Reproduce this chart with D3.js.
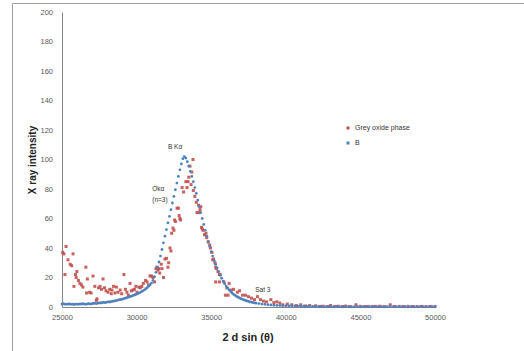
<!DOCTYPE html>
<html>
<head>
<meta charset="utf-8">
<script src="https://cdn.jsdelivr.net/npm/d3@7"></script>
<style>
  body { margin: 0; background: #fff; }
  text { font-family: "Liberation Sans", "DejaVu Sans", sans-serif; }
</style>
</head>
<body>
<div id="chart"></div>
<script>
// tick values
const xTicks = [25000, 30000, 35000, 40000, 45000, 50000];
const yTicks = [0, 20, 40, 60, 80, 100, 120, 140, 160, 180, 200];

const seriesNames = ['Grey oxide phase', 'B'];

// Grey oxide phase : [2d sin(theta), intensity]
const greyOxide = [
  [25050, 37], [25130, 36], [25200, 22], [25270, 41], [25400, 32], [25550, 29], [25650, 28],
  [25740, 36], [25800, 14], [25900, 22], [25950, 20], [26000, 24], [26100, 18], [26200, 16],
  [26300, 15], [26400, 13.5], [26600, 27], [26650, 9.5], [26700, 19], [26850, 10], [26950, 9.5],
  [27080, 21], [27200, 14], [27300, 4.5], [27350, 5.5], [27450, 13], [27550, 14], [27650, 12],
  [27750, 19], [27850, 13], [27950, 11], [28080, 10], [28200, 12], [28300, 9], [28350, 11.5],
  [28450, 14], [28550, 9.5], [28650, 13.5], [28750, 10], [28900, 11.5], [29000, 9], [29150, 22],
  [29250, 12], [29350, 10], [29450, 8], [29560, 16], [29650, 11], [29760, 11.5], [29850, 12],
  [29950, 14], [30030, 10], [30150, 13.5], [30250, 13], [30350, 14], [30450, 16], [30600, 18],
  [30700, 17], [30800, 15], [30900, 21], [31000, 21], [31100, 20], [31200, 17], [31300, 26],
  [31360, 27], [31430, 25], [31500, 26], [31550, 23], [31650, 29], [31700, 26], [31800, 20],
  [31900, 32.5], [32000, 33], [32100, 27], [32150, 30], [32240, 40], [32300, 38], [32350, 50],
  [32440, 53.5], [32500, 52], [32550, 59], [32600, 58], [32710, 67], [32800, 67], [32850, 62],
  [32900, 60], [32950, 59], [33050, 81], [33150, 78], [33300, 85], [33380, 81], [33450, 85],
  [33500, 88], [33580, 95.5], [33650, 83], [33700, 91.5], [33780, 100], [33800, 79], [33900, 75],
  [34000, 71], [34050, 64], [34150, 69], [34200, 64], [34250, 66], [34300, 68], [34350, 54],
  [34400, 53], [34450, 52], [34550, 49], [34650, 50], [34700, 47], [34800, 44], [34900, 42],
  [34950, 40], [35050, 37], [35100, 32], [35150, 32.5], [35250, 30], [35300, 27], [35350, 26],
  [35450, 24], [35550, 22], [35600, 22], [35300, 17], [35550, 17], [35850, 17], [36200, 16],
  [36050, 13], [35950, 8], [36130, 8], [36350, 11.5], [36500, 12], [36750, 10], [36900, 11],
  [37100, 8], [37300, 8], [37500, 7], [37700, 6], [37900, 5], [38100, 7], [38300, 5], [38500, 4],
  [38700, 3.5], [39000, 5], [39200, 3], [39400, 3.5], [39600, 2.7], [39800, 1.5], [40100, 2],
  [40400, 1.5], [40700, 1], [41000, 1.5], [41300, 0.7], [41600, 1], [42000, 0.8], [42300, 0.4],
  [42500, 0.5], [42800, 0.3], [43000, 1], [43300, 0.4], [43500, 0.5], [43800, 0.3], [44000, 0.6],
  [44300, 0.3], [44700, 1.5], [45000, 0.4], [45300, 0.3], [45500, 0.4], [45800, 0.3], [46000, 0.4],
  [46300, 0.5], [46600, 0.3], [47000, 1.5], [47300, 0.3], [47600, 0.4], [47900, 0.3], [48200, 0.4],
  [48500, 0.3], [48800, 0.3], [49100, 0.4], [49400, 0.3], [49700, 0.3], [50000, 0.3]
];

// B : [2d sin(theta), intensity]
const seriesB = [
  [25000, 2.0], [25100, 2.2], [25200, 1.8], [25300, 2.0], [25400, 1.9], [25500, 2.1], [25600, 1.8],
  [25700, 2.0], [25800, 1.7], [25900, 1.9], [26000, 2.0], [26100, 1.8], [26200, 2.1], [26300, 1.9],
  [26400, 2.2], [26500, 2.0], [26600, 1.8], [26700, 2.1], [26800, 2.3], [26900, 2.0], [27000, 2.2],
  [27100, 2.4], [27200, 2.5], [27300, 2.3], [27400, 2.6], [27500, 2.8], [27600, 2.7], [27700, 3.0],
  [27800, 3.1], [27900, 3.0], [28000, 3.3], [28100, 3.5], [28200, 3.4], [28300, 3.7], [28400, 3.9],
  [28500, 4.0], [28600, 4.3], [28700, 4.5], [28800, 4.8], [28900, 5.0], [29000, 5.2], [29100, 5.5],
  [29200, 5.9], [29300, 6.1], [29400, 6.5], [29500, 6.8], [29600, 7.2], [29700, 7.5], [29800, 7.9],
  [29900, 8.3], [30000, 8.7], [30100, 9.2], [30200, 9.6], [30300, 10.2], [30400, 10.8], [30500, 11.5],
  [30600, 12.2], [30700, 13.0], [30800, 14.0], [30900, 15.0], [31000, 16.2], [31100, 18], [31200, 20.5],
  [31300, 23.5], [31400, 27], [31500, 30.5], [31600, 34.5], [31700, 39], [31800, 43.5], [31900, 48],
  [32000, 52.5], [32100, 57], [32200, 61.5], [32300, 66], [32400, 70.5], [32500, 75], [32600, 79.5],
  [32700, 84], [32800, 88.5], [32900, 93], [33000, 97], [33100, 100.5], [33200, 102], [33300, 101],
  [33400, 98.5], [33500, 95.5], [33600, 92], [33700, 88.5], [33800, 85], [33900, 81], [34000, 77],
  [34100, 72.5], [34200, 68], [34300, 64], [34400, 60], [34500, 56], [34600, 52], [34700, 48],
  [34800, 44.5], [34900, 41], [35000, 37.5], [35100, 34.5], [35200, 31.5], [35300, 29], [35400, 26.5],
  [35500, 24], [35600, 21.5], [35700, 19.5], [35800, 17.5], [35900, 15.8], [36000, 14.2], [36100, 12.8],
  [36200, 11.6], [36300, 10.5], [36400, 9.5], [36500, 8.6], [36600, 7.9], [36700, 7.2], [36800, 6.6],
  [36900, 6.1], [37000, 5.6], [37100, 5.2], [37200, 4.8], [37300, 4.4], [37400, 4.1], [37500, 3.8],
  [37600, 3.5], [37700, 3.3], [37800, 3.0], [37900, 2.8], [38000, 2.6], [38200, 2.3], [38400, 2.0],
  [38600, 1.8], [38800, 1.6], [39000, 1.4], [39200, 1.2], [39400, 1.1], [39600, 1.0], [39800, 0.9],
  [40000, 0.8], [40200, 0.7], [40400, 0.7], [40600, 0.6], [40800, 0.6], [41000, 0.5], [41200, 0.5],
  [41400, 0.5], [41600, 0.4], [41800, 0.4], [42000, 0.4], [42200, 0.4], [42400, 0.4], [42600, 0.3],
  [42800, 0.3], [43000, 0.3], [43200, 0.3], [43400, 0.3], [43600, 0.3], [43800, 0.3], [44000, 0.3],
  [44200, 0.3], [44400, 0.3], [44600, 0.3], [44800, 0.3], [45000, 0.3], [45200, 0.3], [45400, 0.3],
  [45600, 0.3], [45800, 0.3], [46000, 0.3], [46200, 0.3], [46400, 0.3], [46600, 0.3], [46800, 0.3],
  [47000, 0.3], [47200, 0.3], [47400, 0.3], [47600, 0.3], [47800, 0.3], [48000, 0.3], [48200, 0.3],
  [48400, 0.3], [48600, 0.3], [48800, 0.3], [49000, 0.3], [49200, 0.3], [49400, 0.3], [49600, 0.3],
  [49800, 0.3], [50000, 0.3]
];

// peak labels: [x, y, text]
const peakLabels = [
  [32100, 108.5, 'B Kα'],
  [31050, 80.5, 'Okα'],
  [31050, 72.5, '(n=3)'],
  [37950, 12, 'Sat 3']
];

const width = 524, height = 351;
const red = '#C0504D', blue = '#4F81BD';

let svg = d3.select('#chart')
  .append('svg')
  .attr('width', width)
  .attr('height', height);

// outer frame (only left and top visible)
svg.append('path')
  .attr('d', `M12.5,${height}V3.5H${width}`)
  .style('fill', 'none')
  .style('stroke', '#a0a0a0');

let x = d3.scaleLinear().domain([25000, 50000]).range([62, 435]);
let y = d3.scaleLinear().domain([0, 200]).range([307, 12]);

let xAxis = svg.append('g')
  .attr('transform', `translate(0,${y(0)})`)
  .call(d3.axisBottom(x).tickValues(xTicks).tickSize(0).tickPadding(8).tickFormat(d3.format('d')));
let yAxis = svg.append('g')
  .attr('transform', `translate(${x(25000)},0)`)
  .call(d3.axisLeft(y).tickValues(yTicks).tickSize(0).tickPadding(9));

[xAxis, yAxis].forEach(a => {
  a.select('.domain').style('stroke', '#868686');
  a.selectAll('text')
    .style('font-family', '"Liberation Sans", sans-serif')
    .style('font-size', '7.5px')
    .style('fill', '#595959');
});

// series
svg.append('g').selectAll('rect')
  .data(greyOxide)
  .enter().append('rect')
  .attr('x', d => x(d[0]) - 1.5)
  .attr('y', d => y(d[1]) - 1.5)
  .attr('width', 3)
  .attr('height', 3)
  .style('fill', red)
  .style('opacity', 0.9);

svg.append('g').selectAll('circle')
  .data(seriesB)
  .enter().append('circle')
  .attr('cx', d => x(d[0]))
  .attr('cy', d => y(d[1]))
  .attr('r', 1.4)
  .style('fill', blue);

// annotations
svg.append('g').selectAll('text')
  .data(peakLabels)
  .enter().append('text')
  .attr('x', d => x(d[0]))
  .attr('y', d => y(d[1]))
  .attr('dy', '0.35em')
  .style('font-size', '6.5px')
  .style('fill', '#333')
  .text(d => d[2]);

// axis titles
svg.append('text')
  .attr('transform', 'translate(32,160) rotate(-90)')
  .attr('text-anchor', 'middle')
  .attr('dy', '0.35em')
  .style('font-size', '10px')
  .style('font-weight', 'bold')
  .style('fill', '#222')
  .text('X ray intensity');

svg.append('text')
  .attr('x', 248)
  .attr('y', 337)
  .attr('text-anchor', 'middle')
  .attr('dy', '0.35em')
  .style('font-size', '11px')
  .style('font-weight', 'bold')
  .style('fill', '#222')
  .text('2 d sin (θ)');

// legend
let legend = svg.append('g')
  .attr('transform', 'translate(348,128)');
let legendItem = legend.selectAll('.legend-item')
  .data(seriesNames)
  .enter().append('g')
  .classed('legend-item', true)
  .attr('transform', (d, i) => `translate(0,${i * 15})`);
legendItem.append('rect')
  .attr('x', -1.5)
  .attr('y', -1.5)
  .attr('width', 3)
  .attr('height', 3)
  .style('fill', (d, i) => i === 0 ? red : blue);
legendItem.append('text')
  .attr('x', 7)
  .attr('dy', '0.35em')
  .style('font-size', '7px')
  .style('fill', '#333')
  .text(d => d);
</script>
</body>
</html>
